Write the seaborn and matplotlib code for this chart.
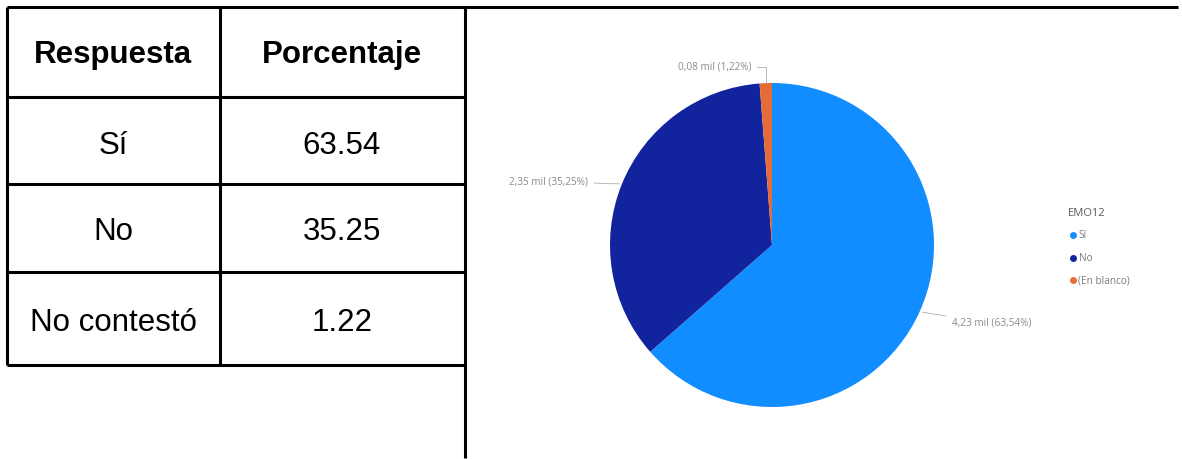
import numpy as np
import matplotlib
matplotlib.use('Agg')
import matplotlib.pyplot as plt
from matplotlib.lines import Line2D
import seaborn as sns

# ── Datos ────────────────────────────────────────────────────────────────────
respuestas = ['Sí', 'No', 'No contestó']
porcentajes = ['63.54', '35.25', '1.22']

categorias = ['Sí', 'No', '(En blanco)']
valores_mil = [4.23, 2.35, 0.08]
valores_pct = [63.54, 35.25, 1.22]
colores = ['#118DFF', '#12239E', '#E66C37']
titulo_leyenda = 'EMO12'

sns.set_theme(style='white')
plt.rcParams['font.family'] = ['Liberation Sans', 'DejaVu Sans']

W, H = 1182, 459
fig = plt.figure(figsize=(W / 100, H / 100), dpi=100)
fig.patch.set_facecolor('white')

# ── Tabla (coordenadas en píxeles, y hacia abajo) ─────────────────────────────
tab = fig.add_axes([0, 0, 1, 1])
tab.set_xlim(0, W)
tab.set_ylim(H, 0)
tab.axis('off')

lw = 2.2
x_left, x_mid, x_right = 7, 220, 465
rows_y = [7, 97, 184, 272, 365]
tab.plot([x_left, 1178], [7, 7], color='black', lw=lw, solid_capstyle='butt')
for y in rows_y[1:]:
    tab.plot([x_left, x_right], [y, y], color='black', lw=lw, solid_capstyle='butt')
tab.plot([x_left, x_left], [7, 365], color='black', lw=lw, solid_capstyle='butt')
tab.plot([x_mid, x_mid], [7, 365], color='black', lw=lw, solid_capstyle='butt')
tab.plot([x_right, x_right], [7, 458], color='black', lw=lw, solid_capstyle='butt')

cx1, cx2 = 113, 342
fs = 22.5
tab.text(cx1, 63, 'Respuesta', ha='center', va='baseline', fontsize=fs,
         fontweight='bold', color='black')
tab.text(cx2, 63, 'Porcentaje', ha='center', va='baseline', fontsize=fs,
         fontweight='bold', color='black')
baselines = [154, 240, 331]
for r, p, yb in zip(respuestas, porcentajes, baselines):
    tab.text(cx1, yb, r, ha='center', va='baseline', fontsize=fs, color='black')
    tab.text(cx2, yb, p, ha='center', va='baseline', fontsize=fs, color='black')

# ── Gráfico circular ─────────────────────────────────────────────────────────
cx, cy, rad = 772, 245, 162
ax = fig.add_axes([(cx - rad) / W, (H - cy - rad) / H, 2 * rad / W, 2 * rad / H])
wedges, _ = ax.pie(valores_pct, colors=colores, startangle=90, counterclock=False,
                   radius=1, wedgeprops=dict(linewidth=0))
ax.set_xlim(-1, 1)
ax.set_ylim(-1, 1)
ax.set_aspect('equal')
ax.axis('off')

lab_font = ['Open Sans', 'DejaVu Sans']
lab_col = '#8a8a8a'
line_col = '#b8b8b8'
textos = [f'{v:.2f} mil ({p:.2f}%)'.replace('.', ',') for v, p in zip(valores_mil, valores_pct)]

# posiciones de las etiquetas (píxeles de la figura, y hacia abajo)
lab_pos = [(952, 323, 'left'), (588, 182, 'right'), (751, 67, 'right')]
for w, t, (lx, ly, ha) in zip(wedges, textos, lab_pos):
    ang = np.deg2rad((w.theta1 + w.theta2) / 2)
    xe, ye = np.cos(ang), np.sin(ang)
    if ha == 'right' and ly < 100:
        conn = 'angle,angleA=0,angleB=90,rad=0'
        shrink_b = 1
    else:
        conn = 'arc3,rad=0'
        shrink_b = 2
    ax.annotate(t, xy=(xe, ye), xycoords='data',
                xytext=(lx, H - ly), textcoords='figure pixels',
                ha=ha, va='center', fontsize=7.2, color=lab_col, family=lab_font,
                arrowprops=dict(arrowstyle='-', color=line_col, lw=0.7,
                                connectionstyle=conn, shrinkA=2, shrinkB=shrink_b))

# ── Leyenda ──────────────────────────────────────────────────────────────────
handles = [Line2D([0], [0], marker='o', linestyle='none', markersize=5,
                  markerfacecolor=c, markeredgewidth=0) for c in colores]
leg = fig.legend(handles, categorias, title=titulo_leyenda, loc='upper left',
                 bbox_to_anchor=(1061 / W, 1 - 201 / H), frameon=False,
                 prop={'size': 7.2, 'family': lab_font},
                 title_fontproperties={'size': 8, 'family': lab_font},
                 handletextpad=0.05, labelspacing=1.15, borderpad=0.2,
                 handlelength=1.0, alignment='left')
for txt in leg.get_texts():
    txt.set_color('#7a7a7a')
leg.get_title().set_color('#5a5a5a')

fig.savefig('out.png', dpi=100, facecolor='white')
